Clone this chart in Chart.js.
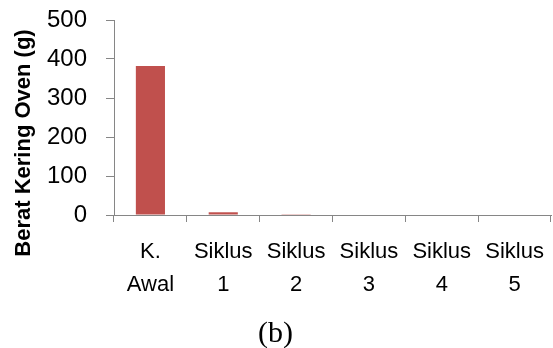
<!DOCTYPE html>
<html>
<head>
<meta charset="utf-8">
<script src="https://cdn.jsdelivr.net/npm/chart.js@4/dist/chart.umd.min.js"></script>
<style>
  html, body { margin: 0; padding: 0; background: #fff; }
  #wrap { position: relative; width: 553px; height: 348px; }
</style>
</head>
<body>
<div id="wrap"><canvas id="c"></canvas></div>
<script>
// Berat kering oven per siklus — single red bar series, Excel-like styling.
const categories = [["K.", "Awal"], ["Siklus", "1"], ["Siklus", "2"], ["Siklus", "3"], ["Siklus", "4"], ["Siklus", "5"]];
const beratKering = [382, 7, 2, 0, 0, 0];
const yTicks = [0, 100, 200, 300, 400, 500];

const yTitle = "Berat Kering Oven (g)";
const caption = "(b)";

const AXIS = "#868686";
const BAR = "#C0504D";
const SANS = "'Liberation Sans', Arial, sans-serif";

// caption box: padding top + line (30px * 0.9)
const CAP_BOX = 10 + 27;

// Rotated y title, placed where the source puts it (below the plot centre).
const yTitlePlugin = {
  id: "yTitle",
  afterDraw(chart) {
    const c = chart.ctx;
    c.save();
    c.translate(24, 143);
    c.rotate(-Math.PI / 2);
    c.font = "bold 22px " + SANS;
    c.fillStyle = "#000";
    c.textAlign = "center";
    c.textBaseline = "middle";
    c.fillText(yTitle, 0, 0);
    c.restore();
  },
};

new Chart(document.getElementById("c"), {
  type: "bar",
  data: {
    labels: categories,
    datasets: [{
      data: beratKering,
      backgroundColor: BAR,
      borderWidth: 0,
      categoryPercentage: 1,
      barPercentage: 0.4,
    }],
  },
  options: {
    responsive: true,
    maintainAspectRatio: false,
    animation: false,
    layout: { padding: { top: 20, right: 2, left: 0, bottom: 0 } },
    plugins: {
      legend: { display: false },
      tooltip: { enabled: false },
      title: {
        display: true,
        position: "bottom",
        text: caption,
        color: "#000",
        font: { family: "'Liberation Serif', 'Times New Roman', serif", size: 30, weight: "normal", lineHeight: 0.9 },
        padding: { top: 10, bottom: 0 },
      },
    },
    scales: {
      x: {
        grid: { display: true, drawOnChartArea: false, drawTicks: true, tickLength: 7, color: AXIS, offset: true },
        border: { display: true, color: AXIS, width: 1 },
        ticks: {
          color: "#000",
          font: { family: SANS, size: 22, lineHeight: 1.5 },
          padding: 13,
          maxRotation: 0,
          autoSkip: false,
        },
        afterFit(scale) {
          scale.height = 348 - CAP_BOX - 215;
          scale.paddingLeft = 0;
          scale.paddingRight = 0;
        },
      },
      y: {
        min: 0,
        max: 500,
        afterBuildTicks(scale) { scale.ticks = yTicks.map((v) => ({ value: v })); },
        grid: { display: true, drawOnChartArea: false, drawTicks: true, tickLength: 8, color: AXIS },
        border: { display: true, color: AXIS, width: 1 },
        ticks: {
          color: "#000",
          font: { family: SANS, size: 24 },
          padding: 19,
        },
        // fixed width; drop the label-based top/bottom padding so the
        // layout padding alone decides where the plot starts
        afterFit(scale) {
          scale.width = 114;
          scale.paddingTop = 0;
          scale.paddingBottom = 0;
        },
      },
    },
  },
  plugins: [yTitlePlugin],
});
</script>
</body>
</html>
